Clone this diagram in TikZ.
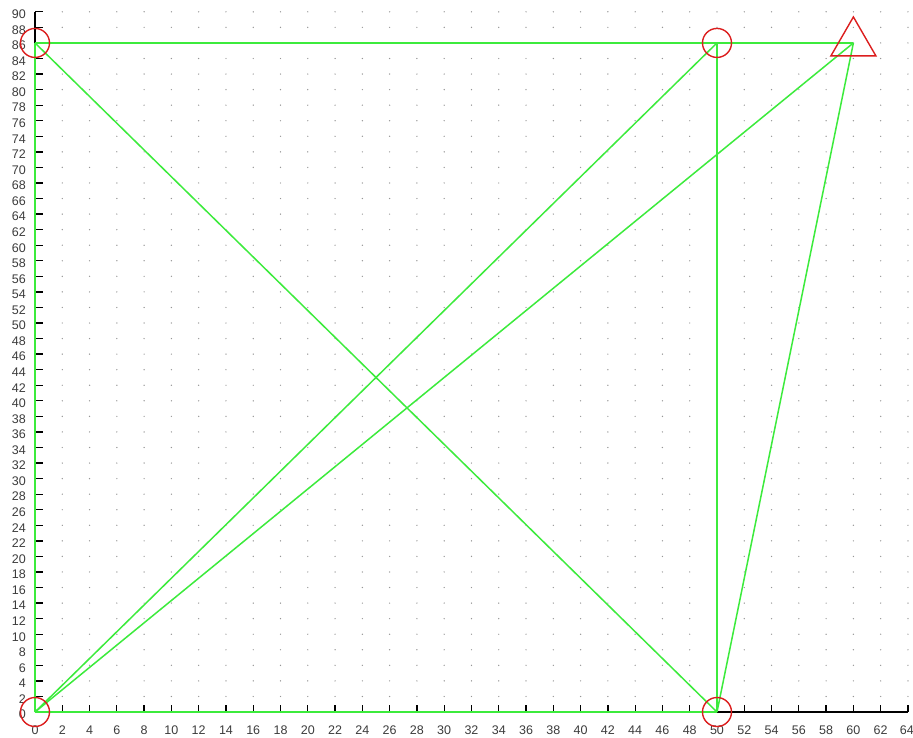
\documentclass[tikz,border=0pt]{standalone}
\usepackage{fontspec}
\newfontfamily\labfont{Liberation Sans}
\usetikzlibrary{shapes.geometric}
\definecolor{edgegreen}{RGB}{60,235,60}
\definecolor{markred}{RGB}{220,30,30}
\definecolor{dotgray}{RGB}{150,150,150}
\definecolor{labgray}{RGB}{60,60,60}
\tikzset{
  edge/.style={draw=edgegreen, line width=1.5pt},
  axisline/.style={draw=black, line width=1.6pt},
  tickmark/.style={draw=black, line width=1.3pt},
  ticklab/.style={font=\labfont\fontsize{12.5}{12.5}\selectfont, text=labgray, inner sep=0pt},
  vcircle/.style={circle, draw=markred, line width=1.4pt, minimum size=29pt, inner sep=0pt},
  vtri/.style={regular polygon, regular polygon sides=3, draw=markred, line width=1.4pt, minimum size=52pt, inner sep=0pt},
  griddot/.style={fill=dotgray}
}
\begin{document}
\begin{tikzpicture}[x=13.64pt,y=7.78pt]
\path[use as bounding box, fill=white] (-2.566,-3.213) rectangle (64.37,91.52);
% grid dots
\foreach \i in {2,4,...,64}{
  \foreach \j in {2,4,...,90}{
    \fill[griddot] (\i,\j) circle (0.7pt);
  }
}
% axes
\coordinate (O) at (0,0);
\coordinate (ytop) at (0,90);
\coordinate (xend) at (64,0);
\draw[axisline] (O) -- (ytop);
\draw[axisline] (O) -- (xend);
\foreach \j in {2,4,...,90}{
  \draw[tickmark] (0,\j) -- ++(8pt,0);
}
\foreach \j in {0,2,...,90}{
  \node[ticklab, anchor=east] at ([xshift=-9pt,yshift=-2.5pt]0,\j) {\j};
}
\foreach \i in {2,4,...,64}{
  \draw[tickmark] (\i,0) -- ++(0,7pt);
}
\foreach \i in {0,2,...,62}{
  \node[ticklab] at ([yshift=-18pt]\i,0) {\i};
}
\node[ticklab, anchor=east] at ([yshift=-18pt,xshift=6pt]64,0) {64};
% vertices
\coordinate (A) at (0,0);
\coordinate (B) at (0,86);
\coordinate (C) at (50,86);
\coordinate (D) at (50,0);
\coordinate (E) at (60,86);
% edges
\draw[edge] (A) -- (B);
\draw[edge] (A) -- (D);
\draw[edge] (B) -- (E);
\draw[edge] (B) -- (D);
\draw[edge] (A) -- (C);
\draw[edge] (A) -- (E);
\draw[edge] (D) -- (C);
\draw[edge] (D) -- (E);
% markers
\node[vcircle] (mA) at (A) {};
\node[vcircle] (mB) at (B) {};
\node[vcircle] (mC) at (C) {};
\node[vcircle] (mD) at (D) {};
\node[vtri] (mE) at (E) {};
\end{tikzpicture}
\end{document}
